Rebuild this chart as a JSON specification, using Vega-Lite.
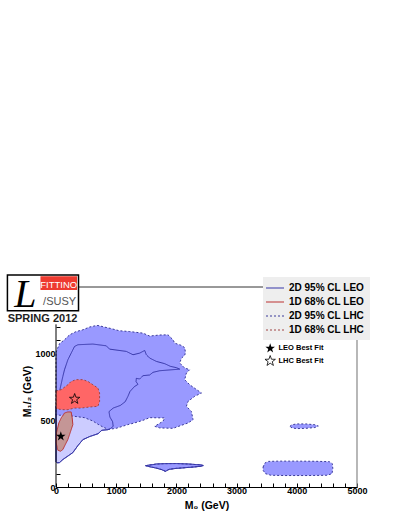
{
 "$schema": "https://vega.github.io/schema/vega-lite/v6.json",
 "width": 301, "height": 200,
 "autosize": {"type": "none"},
 "padding": {"left": 56, "top": 287, "right": 50, "bottom": 40},
 "background": "white",
 "config": {
  "view": {"stroke": null},
  "axis": {"grid": false, "domainColor": "black", "tickColor": "black", "labelColor": "black", "titleColor": "black", "labelFont": "Liberation Sans", "titleFont": "Liberation Sans", "labelFontWeight": "bold", "titleFontWeight": "bold", "labelFontSize": 9, "titleFontSize": 10.5, "zindex": 1, "labelFlush": false, "labelOverlap": false, "tickWidth": 1}
 },
 "datasets": {
  "contours": [
   {"c":"2D 95% CL LEO","p":"leo_a","i":0,"m0":0,"m12":600},
   {"c":"2D 95% CL LEO","p":"leo_a","i":1,"m0":60,"m12":720},
   {"c":"2D 95% CL LEO","p":"leo_a","i":2,"m0":114,"m12":830},
   {"c":"2D 95% CL LEO","p":"leo_a","i":3,"m0":141,"m12":879},
   {"c":"2D 95% CL LEO","p":"leo_a","i":4,"m0":197,"m12":954},
   {"c":"2D 95% CL LEO","p":"leo_a","i":5,"m0":252,"m12":1004},
   {"c":"2D 95% CL LEO","p":"leo_a","i":6,"m0":308,"m12":1054},
   {"c":"2D 95% CL LEO","p":"leo_a","i":7,"m0":364,"m12":1067},
   {"c":"2D 95% CL LEO","p":"leo_a","i":8,"m0":613,"m12":1072},
   {"c":"2D 95% CL LEO","p":"leo_a","i":9,"m0":835,"m12":1059},
   {"c":"2D 95% CL LEO","p":"leo_a","i":10,"m0":890,"m12":1034},
   {"c":"2D 95% CL LEO","p":"leo_a","i":11,"m0":1168,"m12":1017},
   {"c":"2D 95% CL LEO","p":"leo_a","i":12,"m0":1279,"m12":992},
   {"c":"2D 95% CL LEO","p":"leo_a","i":13,"m0":1390,"m12":1004},
   {"c":"2D 95% CL LEO","p":"leo_a","i":14,"m0":1473,"m12":1024},
   {"c":"2D 95% CL LEO","p":"leo_a","i":15,"m0":1501,"m12":992},
   {"c":"2D 95% CL LEO","p":"leo_a","i":16,"m0":1556,"m12":967},
   {"c":"2D 95% CL LEO","p":"leo_a","i":17,"m0":1667,"m12":942},
   {"c":"2D 95% CL LEO","p":"leo_a","i":18,"m0":1805,"m12":925},
   {"c":"2D 95% CL LEO","p":"leo_a","i":19,"m0":1900,"m12":905},
   {"c":"2D 95% CL LEO","p":"leo_a","i":20,"m0":2000,"m12":895},
   {"c":"2D 95% CL LEO","p":"leo_a","i":21,"m0":2055,"m12":884},
   {"c":"2D 95% CL LEO","p":"leo_a","i":22,"m0":1889,"m12":878},
   {"c":"2D 95% CL LEO","p":"leo_a","i":23,"m0":1723,"m12":872},
   {"c":"2D 95% CL LEO","p":"leo_a","i":24,"m0":1611,"m12":860},
   {"c":"2D 95% CL LEO","p":"leo_a","i":25,"m0":1556,"m12":840},
   {"c":"2D 95% CL LEO","p":"leo_a","i":26,"m0":1445,"m12":835},
   {"c":"2D 95% CL LEO","p":"leo_a","i":27,"m0":1389,"m12":810},
   {"c":"2D 95% CL LEO","p":"leo_a","i":28,"m0":1334,"m12":815},
   {"c":"2D 95% CL LEO","p":"leo_a","i":29,"m0":1330,"m12":790},
   {"c":"2D 95% CL LEO","p":"leo_a","i":30,"m0":1362,"m12":770},
   {"c":"2D 95% CL LEO","p":"leo_a","i":31,"m0":1300,"m12":752},
   {"c":"2D 95% CL LEO","p":"leo_a","i":32,"m0":1230,"m12":717},
   {"c":"2D 95% CL LEO","p":"leo_a","i":33,"m0":1195,"m12":680},
   {"c":"2D 95% CL LEO","p":"leo_a","i":34,"m0":1150,"m12":640},
   {"c":"2D 95% CL LEO","p":"leo_a","i":35,"m0":1070,"m12":612},
   {"c":"2D 95% CL LEO","p":"leo_a","i":36,"m0":950,"m12":592},
   {"c":"2D 95% CL LEO","p":"leo_a","i":37,"m0":880,"m12":565},
   {"c":"2D 95% CL LEO","p":"leo_a","i":38,"m0":895,"m12":525},
   {"c":"2D 95% CL LEO","p":"leo_a","i":39,"m0":940,"m12":490},
   {"c":"2D 95% CL LEO","p":"leo_a","i":40,"m0":950,"m12":455},
   {"c":"2D 95% CL LEO","p":"leo_a","i":41,"m0":900,"m12":437},
   {"c":"2D 95% CL LEO","p":"leo_a","i":42,"m0":860,"m12":430},
   {"c":"2D 95% CL LEO","p":"leo_a","i":43,"m0":760,"m12":425},
   {"c":"2D 95% CL LEO","p":"leo_a","i":44,"m0":700,"m12":400},
   {"c":"2D 95% CL LEO","p":"leo_a","i":45,"m0":557,"m12":378},
   {"c":"2D 95% CL LEO","p":"leo_a","i":46,"m0":446,"m12":355},
   {"c":"2D 95% CL LEO","p":"leo_a","i":47,"m0":363,"m12":310},
   {"c":"2D 95% CL LEO","p":"leo_a","i":48,"m0":280,"m12":258},
   {"c":"2D 95% CL LEO","p":"leo_a","i":49,"m0":197,"m12":232},
   {"c":"2D 95% CL LEO","p":"leo_a","i":50,"m0":114,"m12":206},
   {"c":"2D 95% CL LEO","p":"leo_a","i":51,"m0":58,"m12":183},
   {"c":"2D 95% CL LEO","p":"leo_a","i":52,"m0":20,"m12":181},
   {"c":"2D 95% CL LEO","p":"leo_a","i":53,"m0":0,"m12":190},
   {"c":"2D 95% CL LEO","p":"leo_a","i":54,"m0":0,"m12":600},
   {"c":"2D 95% CL LEO","p":"leo_b","i":0,"m0":1490,"m12":160},
   {"c":"2D 95% CL LEO","p":"leo_b","i":1,"m0":1667,"m12":172},
   {"c":"2D 95% CL LEO","p":"leo_b","i":2,"m0":1800,"m12":175},
   {"c":"2D 95% CL LEO","p":"leo_b","i":3,"m0":2000,"m12":176},
   {"c":"2D 95% CL LEO","p":"leo_b","i":4,"m0":2200,"m12":172},
   {"c":"2D 95% CL LEO","p":"leo_b","i":5,"m0":2400,"m12":166},
   {"c":"2D 95% CL LEO","p":"leo_b","i":6,"m0":2445,"m12":161},
   {"c":"2D 95% CL LEO","p":"leo_b","i":7,"m0":2400,"m12":155},
   {"c":"2D 95% CL LEO","p":"leo_b","i":8,"m0":2200,"m12":147},
   {"c":"2D 95% CL LEO","p":"leo_b","i":9,"m0":2000,"m12":140},
   {"c":"2D 95% CL LEO","p":"leo_b","i":10,"m0":1880,"m12":133},
   {"c":"2D 95% CL LEO","p":"leo_b","i":11,"m0":1817,"m12":118},
   {"c":"2D 95% CL LEO","p":"leo_b","i":12,"m0":1760,"m12":130},
   {"c":"2D 95% CL LEO","p":"leo_b","i":13,"m0":1667,"m12":142},
   {"c":"2D 95% CL LEO","p":"leo_b","i":14,"m0":1560,"m12":152},
   {"c":"2D 95% CL LEO","p":"leo_b","i":15,"m0":1490,"m12":160},
   {"c":"2D 95% CL LHC","p":"lhc_a","i":0,"m0":0,"m12":1010},
   {"c":"2D 95% CL LHC","p":"lhc_a","i":1,"m0":58,"m12":1075},
   {"c":"2D 95% CL LHC","p":"lhc_a","i":2,"m0":141,"m12":1104},
   {"c":"2D 95% CL LHC","p":"lhc_a","i":3,"m0":225,"m12":1141},
   {"c":"2D 95% CL LHC","p":"lhc_a","i":4,"m0":330,"m12":1165},
   {"c":"2D 95% CL LHC","p":"lhc_a","i":5,"m0":446,"m12":1179},
   {"c":"2D 95% CL LHC","p":"lhc_a","i":6,"m0":560,"m12":1200},
   {"c":"2D 95% CL LHC","p":"lhc_a","i":7,"m0":680,"m12":1212},
   {"c":"2D 95% CL LHC","p":"lhc_a","i":8,"m0":724,"m12":1209},
   {"c":"2D 95% CL LHC","p":"lhc_a","i":9,"m0":800,"m12":1200},
   {"c":"2D 95% CL LHC","p":"lhc_a","i":10,"m0":900,"m12":1190},
   {"c":"2D 95% CL LHC","p":"lhc_a","i":11,"m0":1050,"m12":1172},
   {"c":"2D 95% CL LHC","p":"lhc_a","i":12,"m0":1223,"m12":1166},
   {"c":"2D 95% CL LHC","p":"lhc_a","i":13,"m0":1330,"m12":1160},
   {"c":"2D 95% CL LHC","p":"lhc_a","i":14,"m0":1445,"m12":1154},
   {"c":"2D 95% CL LHC","p":"lhc_a","i":15,"m0":1556,"m12":1132},
   {"c":"2D 95% CL LHC","p":"lhc_a","i":16,"m0":1640,"m12":1136},
   {"c":"2D 95% CL LHC","p":"lhc_a","i":17,"m0":1722,"m12":1140},
   {"c":"2D 95% CL LHC","p":"lhc_a","i":18,"m0":1861,"m12":1141},
   {"c":"2D 95% CL LHC","p":"lhc_a","i":19,"m0":1944,"m12":1104},
   {"c":"2D 95% CL LHC","p":"lhc_a","i":20,"m0":1972,"m12":1079},
   {"c":"2D 95% CL LHC","p":"lhc_a","i":21,"m0":2083,"m12":1062},
   {"c":"2D 95% CL LHC","p":"lhc_a","i":22,"m0":2138,"m12":1045},
   {"c":"2D 95% CL LHC","p":"lhc_a","i":23,"m0":2150,"m12":1010},
   {"c":"2D 95% CL LHC","p":"lhc_a","i":24,"m0":2140,"m12":990},
   {"c":"2D 95% CL LHC","p":"lhc_a","i":25,"m0":2083,"m12":965},
   {"c":"2D 95% CL LHC","p":"lhc_a","i":26,"m0":2055,"m12":930},
   {"c":"2D 95% CL LHC","p":"lhc_a","i":27,"m0":2138,"m12":892},
   {"c":"2D 95% CL LHC","p":"lhc_a","i":28,"m0":2221,"m12":880},
   {"c":"2D 95% CL LHC","p":"lhc_a","i":29,"m0":2166,"m12":855},
   {"c":"2D 95% CL LHC","p":"lhc_a","i":30,"m0":2138,"m12":805},
   {"c":"2D 95% CL LHC","p":"lhc_a","i":31,"m0":2221,"m12":767},
   {"c":"2D 95% CL LHC","p":"lhc_a","i":32,"m0":2416,"m12":705},
   {"c":"2D 95% CL LHC","p":"lhc_a","i":33,"m0":2304,"m12":680},
   {"c":"2D 95% CL LHC","p":"lhc_a","i":34,"m0":2193,"m12":642},
   {"c":"2D 95% CL LHC","p":"lhc_a","i":35,"m0":2166,"m12":605},
   {"c":"2D 95% CL LHC","p":"lhc_a","i":36,"m0":2249,"m12":567},
   {"c":"2D 95% CL LHC","p":"lhc_a","i":37,"m0":2277,"m12":505},
   {"c":"2D 95% CL LHC","p":"lhc_a","i":38,"m0":2193,"m12":480},
   {"c":"2D 95% CL LHC","p":"lhc_a","i":39,"m0":1944,"m12":440},
   {"c":"2D 95% CL LHC","p":"lhc_a","i":40,"m0":1722,"m12":443},
   {"c":"2D 95% CL LHC","p":"lhc_a","i":41,"m0":1639,"m12":455},
   {"c":"2D 95% CL LHC","p":"lhc_a","i":42,"m0":1777,"m12":493},
   {"c":"2D 95% CL LHC","p":"lhc_a","i":43,"m0":1805,"m12":518},
   {"c":"2D 95% CL LHC","p":"lhc_a","i":44,"m0":1556,"m12":520},
   {"c":"2D 95% CL LHC","p":"lhc_a","i":45,"m0":1445,"m12":500},
   {"c":"2D 95% CL LHC","p":"lhc_a","i":46,"m0":1300,"m12":480},
   {"c":"2D 95% CL LHC","p":"lhc_a","i":47,"m0":1195,"m12":468},
   {"c":"2D 95% CL LHC","p":"lhc_a","i":48,"m0":1000,"m12":440},
   {"c":"2D 95% CL LHC","p":"lhc_a","i":49,"m0":870,"m12":432},
   {"c":"2D 95% CL LHC","p":"lhc_a","i":50,"m0":780,"m12":450},
   {"c":"2D 95% CL LHC","p":"lhc_a","i":51,"m0":700,"m12":470},
   {"c":"2D 95% CL LHC","p":"lhc_a","i":52,"m0":612,"m12":495},
   {"c":"2D 95% CL LHC","p":"lhc_a","i":53,"m0":474,"m12":520},
   {"c":"2D 95% CL LHC","p":"lhc_a","i":54,"m0":225,"m12":535},
   {"c":"2D 95% CL LHC","p":"lhc_a","i":55,"m0":0,"m12":540},
   {"c":"2D 95% CL LHC","p":"lhc_a","i":56,"m0":0,"m12":1010},
   {"c":"2D 95% CL LHC","p":"lhc_b","i":0,"m0":1490,"m12":160},
   {"c":"2D 95% CL LHC","p":"lhc_b","i":1,"m0":1667,"m12":172},
   {"c":"2D 95% CL LHC","p":"lhc_b","i":2,"m0":1800,"m12":175},
   {"c":"2D 95% CL LHC","p":"lhc_b","i":3,"m0":2000,"m12":176},
   {"c":"2D 95% CL LHC","p":"lhc_b","i":4,"m0":2200,"m12":172},
   {"c":"2D 95% CL LHC","p":"lhc_b","i":5,"m0":2400,"m12":166},
   {"c":"2D 95% CL LHC","p":"lhc_b","i":6,"m0":2445,"m12":161},
   {"c":"2D 95% CL LHC","p":"lhc_b","i":7,"m0":2400,"m12":155},
   {"c":"2D 95% CL LHC","p":"lhc_b","i":8,"m0":2200,"m12":147},
   {"c":"2D 95% CL LHC","p":"lhc_b","i":9,"m0":2000,"m12":140},
   {"c":"2D 95% CL LHC","p":"lhc_b","i":10,"m0":1880,"m12":133},
   {"c":"2D 95% CL LHC","p":"lhc_b","i":11,"m0":1817,"m12":118},
   {"c":"2D 95% CL LHC","p":"lhc_b","i":12,"m0":1760,"m12":130},
   {"c":"2D 95% CL LHC","p":"lhc_b","i":13,"m0":1667,"m12":142},
   {"c":"2D 95% CL LHC","p":"lhc_b","i":14,"m0":1560,"m12":152},
   {"c":"2D 95% CL LHC","p":"lhc_b","i":15,"m0":1490,"m12":160},
   {"c":"2D 95% CL LHC","p":"lhc_c","i":0,"m0":3885,"m12":455},
   {"c":"2D 95% CL LHC","p":"lhc_c","i":1,"m0":3920,"m12":467},
   {"c":"2D 95% CL LHC","p":"lhc_c","i":2,"m0":4000,"m12":473},
   {"c":"2D 95% CL LHC","p":"lhc_c","i":3,"m0":4150,"m12":473},
   {"c":"2D 95% CL LHC","p":"lhc_c","i":4,"m0":4300,"m12":467},
   {"c":"2D 95% CL LHC","p":"lhc_c","i":5,"m0":4357,"m12":457},
   {"c":"2D 95% CL LHC","p":"lhc_c","i":6,"m0":4300,"m12":446},
   {"c":"2D 95% CL LHC","p":"lhc_c","i":7,"m0":4150,"m12":440},
   {"c":"2D 95% CL LHC","p":"lhc_c","i":8,"m0":4000,"m12":438},
   {"c":"2D 95% CL LHC","p":"lhc_c","i":9,"m0":3920,"m12":443},
   {"c":"2D 95% CL LHC","p":"lhc_c","i":10,"m0":3885,"m12":455},
   {"c":"2D 95% CL LHC","p":"lhc_d","i":0,"m0":3440,"m12":150},
   {"c":"2D 95% CL LHC","p":"lhc_d","i":1,"m0":3470,"m12":180},
   {"c":"2D 95% CL LHC","p":"lhc_d","i":2,"m0":3530,"m12":192},
   {"c":"2D 95% CL LHC","p":"lhc_d","i":3,"m0":3700,"m12":194},
   {"c":"2D 95% CL LHC","p":"lhc_d","i":4,"m0":4000,"m12":194},
   {"c":"2D 95% CL LHC","p":"lhc_d","i":5,"m0":4300,"m12":193},
   {"c":"2D 95% CL LHC","p":"lhc_d","i":6,"m0":4540,"m12":190},
   {"c":"2D 95% CL LHC","p":"lhc_d","i":7,"m0":4590,"m12":175},
   {"c":"2D 95% CL LHC","p":"lhc_d","i":8,"m0":4598,"m12":140},
   {"c":"2D 95% CL LHC","p":"lhc_d","i":9,"m0":4585,"m12":100},
   {"c":"2D 95% CL LHC","p":"lhc_d","i":10,"m0":4500,"m12":88},
   {"c":"2D 95% CL LHC","p":"lhc_d","i":11,"m0":4200,"m12":86},
   {"c":"2D 95% CL LHC","p":"lhc_d","i":12,"m0":3800,"m12":86},
   {"c":"2D 95% CL LHC","p":"lhc_d","i":13,"m0":3570,"m12":88},
   {"c":"2D 95% CL LHC","p":"lhc_d","i":14,"m0":3480,"m12":100},
   {"c":"2D 95% CL LHC","p":"lhc_d","i":15,"m0":3440,"m12":125},
   {"c":"2D 95% CL LHC","p":"lhc_d","i":16,"m0":3440,"m12":150},
   {"c":"1D 68% CL LHC","p":"lhc68","i":0,"m0":0,"m12":720},
   {"c":"1D 68% CL LHC","p":"lhc68","i":1,"m0":86,"m12":730},
   {"c":"1D 68% CL LHC","p":"lhc68","i":2,"m0":197,"m12":767},
   {"c":"1D 68% CL LHC","p":"lhc68","i":3,"m0":252,"m12":792},
   {"c":"1D 68% CL LHC","p":"lhc68","i":4,"m0":336,"m12":805},
   {"c":"1D 68% CL LHC","p":"lhc68","i":5,"m0":446,"m12":805},
   {"c":"1D 68% CL LHC","p":"lhc68","i":6,"m0":530,"m12":792},
   {"c":"1D 68% CL LHC","p":"lhc68","i":7,"m0":613,"m12":767},
   {"c":"1D 68% CL LHC","p":"lhc68","i":8,"m0":696,"m12":742},
   {"c":"1D 68% CL LHC","p":"lhc68","i":9,"m0":724,"m12":705},
   {"c":"1D 68% CL LHC","p":"lhc68","i":10,"m0":724,"m12":642},
   {"c":"1D 68% CL LHC","p":"lhc68","i":11,"m0":696,"m12":605},
   {"c":"1D 68% CL LHC","p":"lhc68","i":12,"m0":557,"m12":600},
   {"c":"1D 68% CL LHC","p":"lhc68","i":13,"m0":419,"m12":592},
   {"c":"1D 68% CL LHC","p":"lhc68","i":14,"m0":308,"m12":592},
   {"c":"1D 68% CL LHC","p":"lhc68","i":15,"m0":197,"m12":580},
   {"c":"1D 68% CL LHC","p":"lhc68","i":16,"m0":114,"m12":580},
   {"c":"1D 68% CL LHC","p":"lhc68","i":17,"m0":30,"m12":585},
   {"c":"1D 68% CL LHC","p":"lhc68","i":18,"m0":0,"m12":590},
   {"c":"1D 68% CL LHC","p":"lhc68","i":19,"m0":0,"m12":720},
   {"c":"1D 68% CL LEO","p":"leo68","i":0,"m0":141,"m12":555},
   {"c":"1D 68% CL LEO","p":"leo68","i":1,"m0":197,"m12":563},
   {"c":"1D 68% CL LEO","p":"leo68","i":2,"m0":252,"m12":563},
   {"c":"1D 68% CL LEO","p":"leo68","i":3,"m0":269,"m12":518},
   {"c":"1D 68% CL LEO","p":"leo68","i":4,"m0":280,"m12":468},
   {"c":"1D 68% CL LEO","p":"leo68","i":5,"m0":252,"m12":430},
   {"c":"1D 68% CL LEO","p":"leo68","i":6,"m0":225,"m12":393},
   {"c":"1D 68% CL LEO","p":"leo68","i":7,"m0":197,"m12":356},
   {"c":"1D 68% CL LEO","p":"leo68","i":8,"m0":141,"m12":306},
   {"c":"1D 68% CL LEO","p":"leo68","i":9,"m0":114,"m12":281},
   {"c":"1D 68% CL LEO","p":"leo68","i":10,"m0":75,"m12":268},
   {"c":"1D 68% CL LEO","p":"leo68","i":11,"m0":30,"m12":276},
   {"c":"1D 68% CL LEO","p":"leo68","i":12,"m0":3,"m12":331},
   {"c":"1D 68% CL LEO","p":"leo68","i":13,"m0":8,"m12":406},
   {"c":"1D 68% CL LEO","p":"leo68","i":14,"m0":47,"m12":480},
   {"c":"1D 68% CL LEO","p":"leo68","i":15,"m0":86,"m12":518},
   {"c":"1D 68% CL LEO","p":"leo68","i":16,"m0":125,"m12":543},
   {"c":"1D 68% CL LEO","p":"leo68","i":17,"m0":141,"m12":555}
  ],
  "fits": [
   {"fit": "LEO Best Fit", "m0": 80, "m12": 380},
   {"fit": "LHC Best Fit", "m0": 310, "m12": 660}
  ]
 },
 "layer": [
  {
   "data": {"name": "contours"},
   "transform": [{"filter": "datum.c === '2D 95% CL LEO'"}],
   "mark": {"type": "line", "fill": "#ccccff", "strokeWidth": 1},
   "encoding": {
    "x": {"field": "m0", "type": "quantitative", "title": "M₀ (GeV)", "scale": {"domain": [0, 5000], "nice": false, "zero": false},
     "axis": {"values": [0,200,400,600,800,1000,1200,1400,1600,1800,2000,2200,2400,2600,2800,3000,3200,3400,3600,3800,4000,4200,4400,4600,4800,5000], "tickCount": 40, "format": "d", "labelExpr": "datum.value % 1000 === 0 ? datum.label : ''", "tickSize": -4, "labelPadding": 3, "titlePadding": 5}},
    "y": {"field": "m12", "type": "quantitative", "title": "M₁/₂ (GeV)", "scale": {"domain": [0, 1500], "nice": false, "zero": false},
     "axis": {"values": [0,100,200,300,400,500,600,700,800,900,1000,1100,1200], "tickCount": 40, "domain": false, "format": "d", "labelExpr": "datum.value % 500 === 0 ? datum.label : ''", "tickSize": -4, "labelPadding": 5, "titleX": -24, "titleY": 104, "titleAngle": -90, "titleAlign": "center"}},
    "detail": {"field": "p", "type": "nominal"},
    "order": {"field": "i", "type": "quantitative"},
    "stroke": {"field": "c", "type": "nominal", "scale": {"domain": ["2D 95% CL LEO", "1D 68% CL LEO", "2D 95% CL LHC", "1D 68% CL LHC"], "range": ["#3636a8", "#bb3333", "#3a3a99", "#a04444"]},
     "legend": {"title": null, "orient": "none", "legendX": 207, "legendY": -10, "fillColor": "#eeeeee", "padding": 5, "symbolType": "M-1.6,0L2,0", "symbolSize": 100, "symbolStrokeWidth": 1.2, "labelFont": "Liberation Sans", "labelFontWeight": "bold", "labelFontSize": 10, "labelColor": "black", "rowPadding": 3, "labelOffset": 9}},
    "strokeDash": {"field": "c", "type": "nominal", "scale": {"domain": ["2D 95% CL LEO", "1D 68% CL LEO", "2D 95% CL LHC", "1D 68% CL LHC"], "range": [[1, 0], [1, 0], [2, 2], [2, 2]]},
     "legend": {"title": null, "orient": "none", "legendX": 207, "legendY": -10, "fillColor": "#eeeeee", "padding": 5, "symbolType": "M-1.6,0L2,0", "symbolSize": 100, "symbolStrokeWidth": 1.2, "labelFont": "Liberation Sans", "labelFontWeight": "bold", "labelFontSize": 10, "labelColor": "black", "rowPadding": 3, "labelOffset": 9}}
   }
  },
  {
   "data": {"name": "contours"},
   "transform": [{"filter": "datum.c === '2D 95% CL LHC'"}],
   "mark": {"type": "line", "fill": "#9999ff", "strokeWidth": 1},
   "encoding": {
    "x": {"field": "m0", "type": "quantitative", "title": "M₀ (GeV)"},
    "y": {"field": "m12", "type": "quantitative", "title": "M₁/₂ (GeV)"},
    "detail": {"field": "p", "type": "nominal"},
    "order": {"field": "i", "type": "quantitative"},
    "stroke": {"field": "c", "type": "nominal"},
    "strokeDash": {"field": "c", "type": "nominal"}
   }
  },
  {
   "data": {"name": "contours"},
   "transform": [{"filter": "datum.c === '2D 95% CL LEO'"}],
   "mark": {"type": "line", "strokeWidth": 1},
   "encoding": {
    "x": {"field": "m0", "type": "quantitative", "title": "M₀ (GeV)"},
    "y": {"field": "m12", "type": "quantitative", "title": "M₁/₂ (GeV)"},
    "detail": {"field": "p", "type": "nominal"},
    "order": {"field": "i", "type": "quantitative"},
    "stroke": {"field": "c", "type": "nominal"},
    "strokeDash": {"field": "c", "type": "nominal"}
   }
  },
  {
   "data": {"name": "contours"},
   "transform": [{"filter": "datum.c === '1D 68% CL LHC'"}],
   "mark": {"type": "line", "fill": "#ff6666", "strokeWidth": 1},
   "encoding": {
    "x": {"field": "m0", "type": "quantitative", "title": "M₀ (GeV)"},
    "y": {"field": "m12", "type": "quantitative", "title": "M₁/₂ (GeV)"},
    "detail": {"field": "p", "type": "nominal"},
    "order": {"field": "i", "type": "quantitative"},
    "stroke": {"field": "c", "type": "nominal"},
    "strokeDash": {"field": "c", "type": "nominal"}
   }
  },
  {
   "data": {"name": "contours"},
   "transform": [{"filter": "datum.c === '1D 68% CL LEO'"}],
   "mark": {"type": "line", "fill": "#c49696", "strokeWidth": 1},
   "encoding": {
    "x": {"field": "m0", "type": "quantitative", "title": "M₀ (GeV)"},
    "y": {"field": "m12", "type": "quantitative", "title": "M₁/₂ (GeV)"},
    "detail": {"field": "p", "type": "nominal"},
    "order": {"field": "i", "type": "quantitative"},
    "stroke": {"field": "c", "type": "nominal"},
    "strokeDash": {"field": "c", "type": "nominal"}
   }
  },
  {
   "data": {"name": "fits"},
   "transform": [{"filter": "datum.fit === 'LEO Best Fit'"}],
   "mark": {"type": "point", "shape": "M0,-1L0.235,-0.324L0.951,-0.309L0.38,0.124L0.588,0.809L0,0.4L-0.588,0.809L-0.38,0.124L-0.951,-0.309L-0.235,-0.324Z", "filled": true, "color": "black", "size": 100, "opacity": 1},
   "encoding": {
    "x": {"field": "m0", "type": "quantitative", "title": "M₀ (GeV)"},
    "y": {"field": "m12", "type": "quantitative", "title": "M₁/₂ (GeV)"}
   }
  },
  {
   "data": {"name": "fits"},
   "transform": [{"filter": "datum.fit === 'LHC Best Fit'"}],
   "mark": {"type": "point", "shape": "M0,-1L0.235,-0.324L0.951,-0.309L0.38,0.124L0.588,0.809L0,0.4L-0.588,0.809L-0.38,0.124L-0.951,-0.309L-0.235,-0.324Z", "filled": false, "color": "black", "strokeWidth": 0.8, "size": 120, "opacity": 1},
   "encoding": {
    "x": {"field": "m0", "type": "quantitative", "title": "M₀ (GeV)"},
    "y": {"field": "m12", "type": "quantitative", "title": "M₁/₂ (GeV)"}
   }
  },
  {
   "data": {"values": [{}]},
   "mark": {"type": "rule", "color": "black", "strokeWidth": 1},
   "encoding": {
    "x": {"datum": 0, "type": "quantitative"},
    "y": {"datum": 0, "type": "quantitative"},
    "y2": {"datum": 1220}
   }
  },
  {
   "data": {"values": [{}]},
   "mark": {"type": "rule", "color": "#888888", "strokeWidth": 1.2},
   "encoding": {
    "x": {"datum": 5000, "type": "quantitative"},
    "y": {"datum": 0, "type": "quantitative"},
    "y2": {"datum": 1500}
   }
  },
  {
   "data": {"values": [{}]},
   "mark": {"type": "rule", "color": "#333333", "strokeWidth": 1},
   "encoding": {
    "x": {"datum": 374, "type": "quantitative"},
    "x2": {"datum": 5000},
    "y": {"datum": 1500, "type": "quantitative"}
   }
  },
  {
   "data": {"values": [{}]},
   "mark": {"type": "rect", "fill": "white", "stroke": "black", "strokeWidth": 1.5},
   "encoding": {
    "x": {"datum": -807, "type": "quantitative"},
    "x2": {"datum": 374},
    "y": {"datum": 1590, "type": "quantitative"},
    "y2": {"datum": 1321}
   }
  },
  {
   "data": {"values": [{}]},
   "mark": {"type": "rect", "fill": "#ee3b30"},
   "encoding": {
    "x": {"datum": -258, "type": "quantitative"},
    "x2": {"datum": 350},
    "y": {"datum": 1580, "type": "quantitative"},
    "y2": {"datum": 1478}
   }
  },
  {
   "data": {"values": [{}]},
   "mark": {"type": "text", "text": "FITTINO", "font": "Liberation Sans Narrow, Liberation Sans", "fontSize": 9.5, "color": "white", "align": "center", "baseline": "alphabetic"},
   "encoding": {
    "x": {"datum": 45, "type": "quantitative"},
    "y": {"datum": 1492, "type": "quantitative"}
   }
  },
  {
   "data": {"values": [{}]},
   "mark": {"type": "text", "text": "/SUSY", "font": "Liberation Sans", "fontSize": 11, "color": "#555555", "align": "center", "baseline": "alphabetic"},
   "encoding": {
    "x": {"datum": 60, "type": "quantitative"},
    "y": {"datum": 1362, "type": "quantitative"}
   }
  },
  {
   "data": {"values": [{}]},
   "mark": {"type": "text", "text": "L", "font": "Liberation Serif", "fontStyle": "italic", "fontSize": 40, "color": "black", "align": "center", "baseline": "alphabetic"},
   "encoding": {
    "x": {"datum": -507, "type": "quantitative"},
    "y": {"datum": 1350, "type": "quantitative"}
   }
  },
  {
   "data": {"values": [{}]},
   "mark": {"type": "text", "text": "SPRING 2012", "font": "Liberation Sans", "fontWeight": "bold", "fontSize": 11, "color": "#222222", "align": "center", "baseline": "alphabetic"},
   "encoding": {
    "x": {"datum": -224, "type": "quantitative"},
    "y": {"datum": 1236, "type": "quantitative"}
   }
  },
  {
   "data": {"values": [{}]},
   "mark": {"type": "point", "shape": "M0,-1L0.235,-0.324L0.951,-0.309L0.38,0.124L0.588,0.809L0,0.4L-0.588,0.809L-0.38,0.124L-0.951,-0.309L-0.235,-0.324Z", "filled": true, "color": "black", "size": 100, "opacity": 1},
   "encoding": {
    "x": {"datum": 3558, "type": "quantitative"},
    "y": {"datum": 1040, "type": "quantitative"}
   }
  },
  {
   "data": {"values": [{}]},
   "mark": {"type": "point", "shape": "M0,-1L0.235,-0.324L0.951,-0.309L0.38,0.124L0.588,0.809L0,0.4L-0.588,0.809L-0.38,0.124L-0.951,-0.309L-0.235,-0.324Z", "filled": false, "color": "black", "strokeWidth": 0.8, "size": 120, "opacity": 1},
   "encoding": {
    "x": {"datum": 3558, "type": "quantitative"},
    "y": {"datum": 945, "type": "quantitative"}
   }
  },
  {
   "data": {"values": [{}]},
   "mark": {"type": "text", "text": "LEO Best Fit", "font": "Liberation Sans", "fontWeight": "bold", "fontSize": 7.5, "color": "black", "align": "left", "baseline": "middle"},
   "encoding": {
    "x": {"datum": 3696, "type": "quantitative"},
    "y": {"datum": 1040, "type": "quantitative"}
   }
  },
  {
   "data": {"values": [{}]},
   "mark": {"type": "text", "text": "LHC Best Fit", "font": "Liberation Sans", "fontWeight": "bold", "fontSize": 7.5, "color": "black", "align": "left", "baseline": "middle"},
   "encoding": {
    "x": {"datum": 3696, "type": "quantitative"},
    "y": {"datum": 945, "type": "quantitative"}
   }
  }
 ]
}
